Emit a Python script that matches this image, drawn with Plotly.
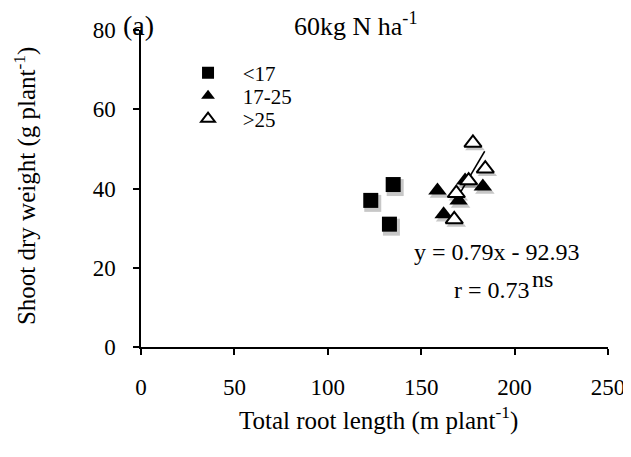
import plotly.graph_objects as go

# Data
x_lt17 = [135, 123, 133]
y_lt17 = [41, 37, 31]
x_17_25 = [158.7, 162, 170, 173.5, 183]
y_17_25 = [39.5, 33.5, 37, 42, 40.5]
x_gt25 = [177.7, 184.3, 175.4, 168.8, 167.7]
y_gt25 = [51.5, 45, 42, 38.8, 32.2]
trend_x = [168, 184]
trend_y = [36.6, 49.4]
x_ticks = [0, 50, 100, 150, 200, 250]
y_ticks = [0, 20, 40, 60, 80]
group_names = ["<17", "17-25", ">25"]

FONT = "Liberation Serif"
W, H = 631, 457
OFF = 8  # page body margin
SX, SY = 2, 3  # shadow offset in px
# visible plot box in figure coordinates
L, R, T, B = 141 - OFF, 607.7 - OFF, 30 - OFF, 346.7 - OFF
ml, mt = L, T
mr, mb = W - (R + SX), H - (B + SY)
pw = W - ml - mr
ph = H - mt - mb


def px(xp):
    return (xp - OFF - ml) / pw


def py(yp):
    return (H - mb - (yp - OFF)) / ph


fig = go.Figure()

shadow = "rgba(0,0,0,0.22)"
for xs, ys, sym in [(x_lt17, y_lt17, "square"), (x_17_25, y_17_25, "triangle-up"), (x_gt25, y_gt25, "triangle-up")]:
    fig.add_trace(go.Scatter(x=xs, y=ys, mode="markers", showlegend=False, hoverinfo="skip",
                             marker=dict(symbol=sym, size=17, color=shadow, line=dict(width=0)),
                             xaxis="x", yaxis="y"))

fig.add_trace(go.Scatter(x=trend_x, y=trend_y, mode="lines", showlegend=False,
                         line=dict(color="black", width=1.5), xaxis="x2", yaxis="y2"))
pad = "\u00a0\u00a0\u2009"
fig.add_trace(go.Scatter(x=x_lt17, y=y_lt17, mode="markers", name=pad + group_names[0], legend="legend",
                         marker=dict(symbol="square", size=15, color="black"), xaxis="x2", yaxis="y2"))
fig.add_trace(go.Scatter(x=x_17_25, y=y_17_25, mode="markers", name=pad + group_names[1], legend="legend2",
                         marker=dict(symbol="triangle-up", size=16, color="black"), xaxis="x2", yaxis="y2"))
fig.add_trace(go.Scatter(x=x_gt25, y=y_gt25, mode="markers", name=pad + group_names[2], legend="legend3",
                         marker=dict(symbol="triangle-up", size=15, color="white", line=dict(color="black", width=2)),
                         xaxis="x2", yaxis="y2"))


def leg(yc):
    return dict(x=px(188), y=py(yc), xanchor="left", yanchor="middle", bgcolor="rgba(0,0,0,0)",
                font=dict(family=FONT, size=21, color="black"), itemwidth=30, itemsizing="constant")


def ann(text, xp, yp, size, **kw):
    return dict(text=text, x=px(xp), y=py(yp), xref="paper", yref="paper", xanchor="center",
                yanchor="middle", showarrow=False, font=dict(family=FONT, size=size, color="black"), **kw)


axfont = dict(family=FONT, size=23, color="black")
fig.update_layout(
    width=W, height=H,
    margin=dict(l=ml, r=mr, t=mt, b=mb, autoexpand=False),
    paper_bgcolor="white", plot_bgcolor="rgba(0,0,0,0)",
    font=dict(family=FONT, color="black"),
    showlegend=True,
    legend=leg(73), legend2=leg(96), legend3=leg(119),
    xaxis=dict(range=[0, 250], domain=[SX / pw, 1], visible=False, anchor="y"),
    yaxis=dict(range=[0, 80], domain=[0, 1 - SY / ph], visible=False, anchor="x"),
    xaxis2=dict(range=[0, 250], domain=[0, 1 - SX / pw], anchor="y2", showgrid=False, zeroline=False,
                showline=True, linecolor="black", linewidth=1.5, ticks="outside", ticklen=6,
                tickwidth=1.5, tickcolor="black", tickvals=x_ticks,
                tickfont=axfont, ticklabelstandoff=13),
    yaxis2=dict(range=[0, 80], domain=[SY / ph, 1], anchor="x2", showgrid=False, zeroline=False,
                showline=True, linecolor="black", linewidth=1.5, ticks="outside", ticklen=6,
                tickwidth=1.5, tickcolor="black", tickvals=y_ticks,
                tickfont=axfont, ticklabelstandoff=13),
    annotations=[
        ann("Total root length (m plant<sup>-1</sup>)", 378, 418, 25),
        ann("Shoot dry weight (g plant<sup>-1</sup>)", 25, 186, 25, textangle=-90),
        ann("60kg N ha<sup>-1</sup>", 355, 25, 26),
        ann("(a)", 139, 26, 28),
        ann("y = 0.79x - 92.93", 497, 252, 24),
        ann("r = 0.73", 492, 290, 24),
        ann("ns", 542, 279, 24),
    ],
)

fig.write_html("out.html")
